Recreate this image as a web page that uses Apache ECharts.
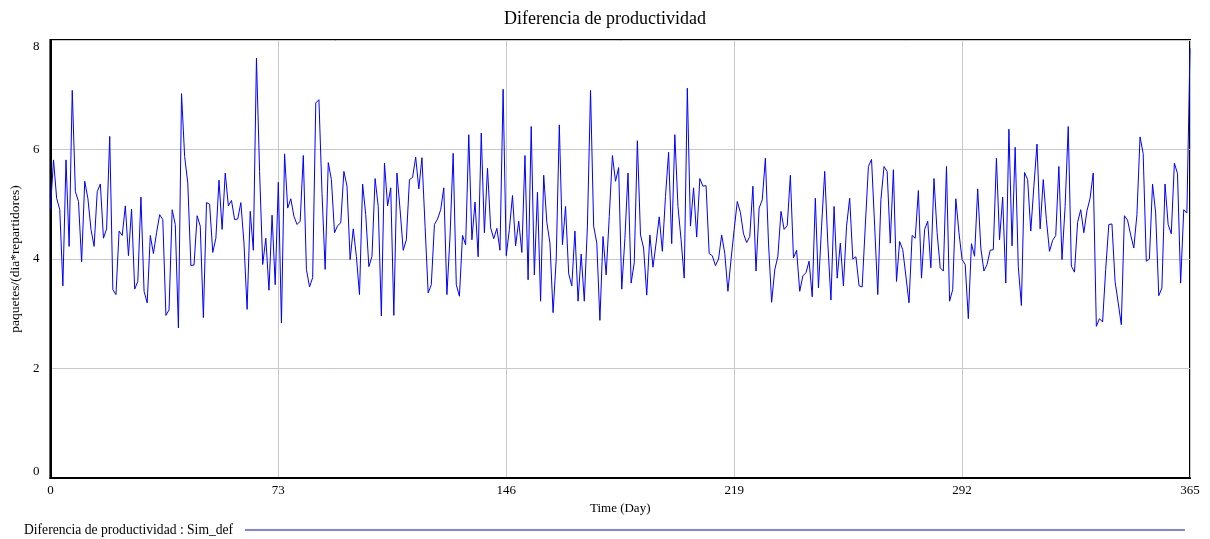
<!DOCTYPE html>
<html>
<head>
<meta charset="utf-8">
<script src="https://cdn.jsdelivr.net/npm/echarts@6/dist/echarts.min.js"></script>
<style>
html,body{margin:0;padding:0;background:#fff;}
#chart{width:1210px;height:539px;}
</style>
</head>
<body>
<div id="chart"></div>
<script>
const titleText = "Diferencia de productividad";
const seriesName = "Diferencia de productividad : Sim_def";
const xAxisName = "Time (Day)";
const yAxisName = "paquetes/(dia*repartidores)";
const xTicks = [0, 73, 146, 219, 292, 365];
const yTicks = [0, 2, 4, 6, 8];
const values = [
  4.90, 5.81, 5.11, 4.90, 3.51, 5.81, 4.23, 7.08, 5.23, 5.05,
  3.95, 5.42, 5.11, 4.54, 4.23, 5.23, 5.37, 4.38, 4.55, 6.24,
  3.44, 3.35, 4.51, 4.43, 4.97, 4.06, 4.91, 3.45, 3.59, 5.13,
  3.41, 3.20, 4.43, 4.10, 4.48, 4.81, 4.72, 2.97, 3.07, 4.90,
  4.63, 2.74, 7.02, 5.87, 5.39, 3.88, 3.89, 4.79, 4.60, 2.93,
  5.03, 5.00, 4.12, 4.38, 5.44, 4.54, 5.57, 4.97, 5.07, 4.72,
  4.73, 5.03, 4.29, 3.08, 4.87, 4.16, 7.67, 5.60, 3.90, 4.38,
  3.43, 4.80, 3.53, 5.40, 2.83, 5.92, 4.93, 5.10, 4.78, 4.63,
  4.69, 5.89, 3.81, 3.49, 3.66, 6.85, 6.91, 5.20, 3.81, 5.76,
  5.45, 4.48, 4.61, 4.66, 5.60, 5.33, 3.99, 4.55, 4.05, 3.35,
  5.37, 4.81, 3.86, 4.05, 5.47, 4.96, 2.96, 5.75, 4.97, 5.30,
  2.97, 5.57, 4.90, 4.16, 4.35, 5.45, 5.49, 5.86, 5.28, 5.85,
  4.60, 3.38, 3.53, 4.63, 4.73, 4.90, 5.30, 3.35, 4.42, 5.93,
  3.53, 3.32, 4.43, 4.26, 6.27, 4.35, 5.04, 4.04, 6.30, 4.48,
  5.66, 4.57, 4.37, 4.56, 4.16, 7.10, 4.06, 4.54, 5.16, 4.24,
  4.69, 4.12, 5.89, 3.62, 6.42, 3.71, 5.22, 3.23, 5.53, 4.67,
  4.29, 3.02, 3.99, 6.45, 4.26, 4.96, 3.73, 3.51, 4.51, 3.23,
  4.09, 3.23, 4.60, 7.08, 4.60, 4.29, 2.88, 4.41, 3.71, 4.78,
  5.89, 5.42, 5.67, 3.45, 4.37, 5.57, 3.56, 3.93, 6.16, 4.44,
  4.20, 3.34, 4.44, 3.85, 4.29, 4.77, 4.14, 5.14, 5.95, 4.28,
  6.27, 4.96, 4.35, 3.65, 7.12, 4.60, 5.30, 4.40, 5.47, 5.33,
  5.34, 4.10, 4.06, 3.88, 4.00, 4.44, 4.10, 3.41, 3.99, 4.54,
  5.05, 4.85, 4.46, 4.30, 4.41, 5.33, 3.78, 4.93, 5.08, 5.84,
  4.29, 3.21, 3.80, 4.05, 4.87, 4.54, 4.61, 5.53, 4.02, 4.16,
  3.41, 3.69, 3.75, 3.96, 3.31, 5.11, 3.47, 4.60, 5.60, 4.29,
  3.25, 4.96, 3.65, 4.29, 3.51, 4.60, 5.11, 4.00, 4.04, 3.51,
  3.49, 4.60, 5.69, 5.82, 4.60, 3.35, 5.08, 5.69, 5.60, 4.29,
  5.63, 3.59, 4.32, 4.17, 3.69, 3.20, 4.43, 4.38, 5.25, 3.65,
  4.54, 4.69, 3.84, 5.47, 4.48, 3.84, 3.78, 5.69, 3.23, 3.44,
  5.10, 4.48, 3.99, 3.90, 2.91, 4.28, 4.05, 5.28, 4.20, 3.78,
  3.90, 4.16, 4.17, 5.84, 4.35, 5.13, 3.56, 6.37, 4.24, 6.04,
  3.87, 3.15, 5.58, 5.45, 4.51, 5.33, 6.10, 4.55, 5.45, 4.72,
  4.14, 4.34, 4.43, 5.69, 3.99, 4.96, 6.42, 3.87, 3.76, 4.67,
  4.90, 4.48, 4.88, 5.11, 5.57, 2.77, 2.91, 2.85, 3.81, 4.63,
  4.64, 3.59, 3.20, 2.80, 4.79, 4.71, 4.44, 4.20, 4.81, 6.23,
  5.93, 3.96, 4.00, 5.37, 4.84, 3.33, 3.47, 5.37, 4.63, 4.46,
  5.75, 5.56, 3.56, 4.90, 4.84, 7.85
];

const points = values.map((v, i) => [i, v]);
const font = "'Liberation Serif', 'Times New Roman', serif";

const chart = echarts.init(document.getElementById('chart'), null, {renderer: 'canvas'});
chart.setOption({
  animation: false,
  backgroundColor: '#ffffff',
  title: {
    text: titleText,
    left: 'center',
    top: 5,
    textStyle: {fontFamily: font, fontSize: 18, fontWeight: 'normal', color: '#000'}
  },
  legend: {
    data: [{name: seriesName, icon: 'rect', itemStyle: {color: '#0000ff'}}],
    left: 24,
    top: 523,
    padding: 0,
    align: 'right',
    itemWidth: 940,
    itemHeight: 1,
    itemStyle: {color: '#0000ff', borderWidth: 0},
    formatter: function (n) { return n + '  '; },
    textStyle: {fontFamily: font, fontSize: 13.6, color: '#000'},
    selectedMode: false
  },
  grid: {
    left: 48, right: 20, top: 40, bottom: 61,
    show: true, borderColor: '#000', borderWidth: 2,
    containLabel: false
  },
  xAxis: {
    type: 'value',
    min: xTicks[0],
    max: xTicks[xTicks.length - 1],
    interval: xTicks[1] - xTicks[0],
    name: xAxisName,
    nameLocation: 'middle',
    nameGap: 24,
    nameTextStyle: {fontFamily: font, fontSize: 13, color: '#000'},
    axisLine: {show: true, lineStyle: {color: '#000', width: 2}},
    axisTick: {show: false},
    axisLabel: {fontFamily: font, fontSize: 13, color: '#000', margin: 6},
    splitLine: {show: true, lineStyle: {color: '#c8c8c8', width: 1}}
  },
  yAxis: {
    type: 'value',
    min: yTicks[0],
    max: yTicks[yTicks.length - 1],
    interval: yTicks[1] - yTicks[0],
    name: yAxisName,
    nameLocation: 'middle',
    nameGap: 24,
    nameTextStyle: {fontFamily: font, fontSize: 13.5, color: '#000'},
    axisLine: {show: true, lineStyle: {color: '#000', width: 2}},
    axisTick: {show: false},
    axisLabel: {
      fontFamily: font, fontSize: 13, color: '#000', margin: 11,
      verticalAlignMaxLabel: 'top', verticalAlignMinLabel: 'bottom'
    },
    splitLine: {show: true, lineStyle: {color: '#c8c8c8', width: 1}}
  },
  series: [{
    name: seriesName,
    type: 'line',
    data: points,
    symbol: 'none',
    showSymbol: false,
    lineStyle: {color: '#0000ff', width: 1},
    itemStyle: {color: '#0000ff'},
    emphasis: {disabled: true}
  }]
});
</script>
</body>
</html>
